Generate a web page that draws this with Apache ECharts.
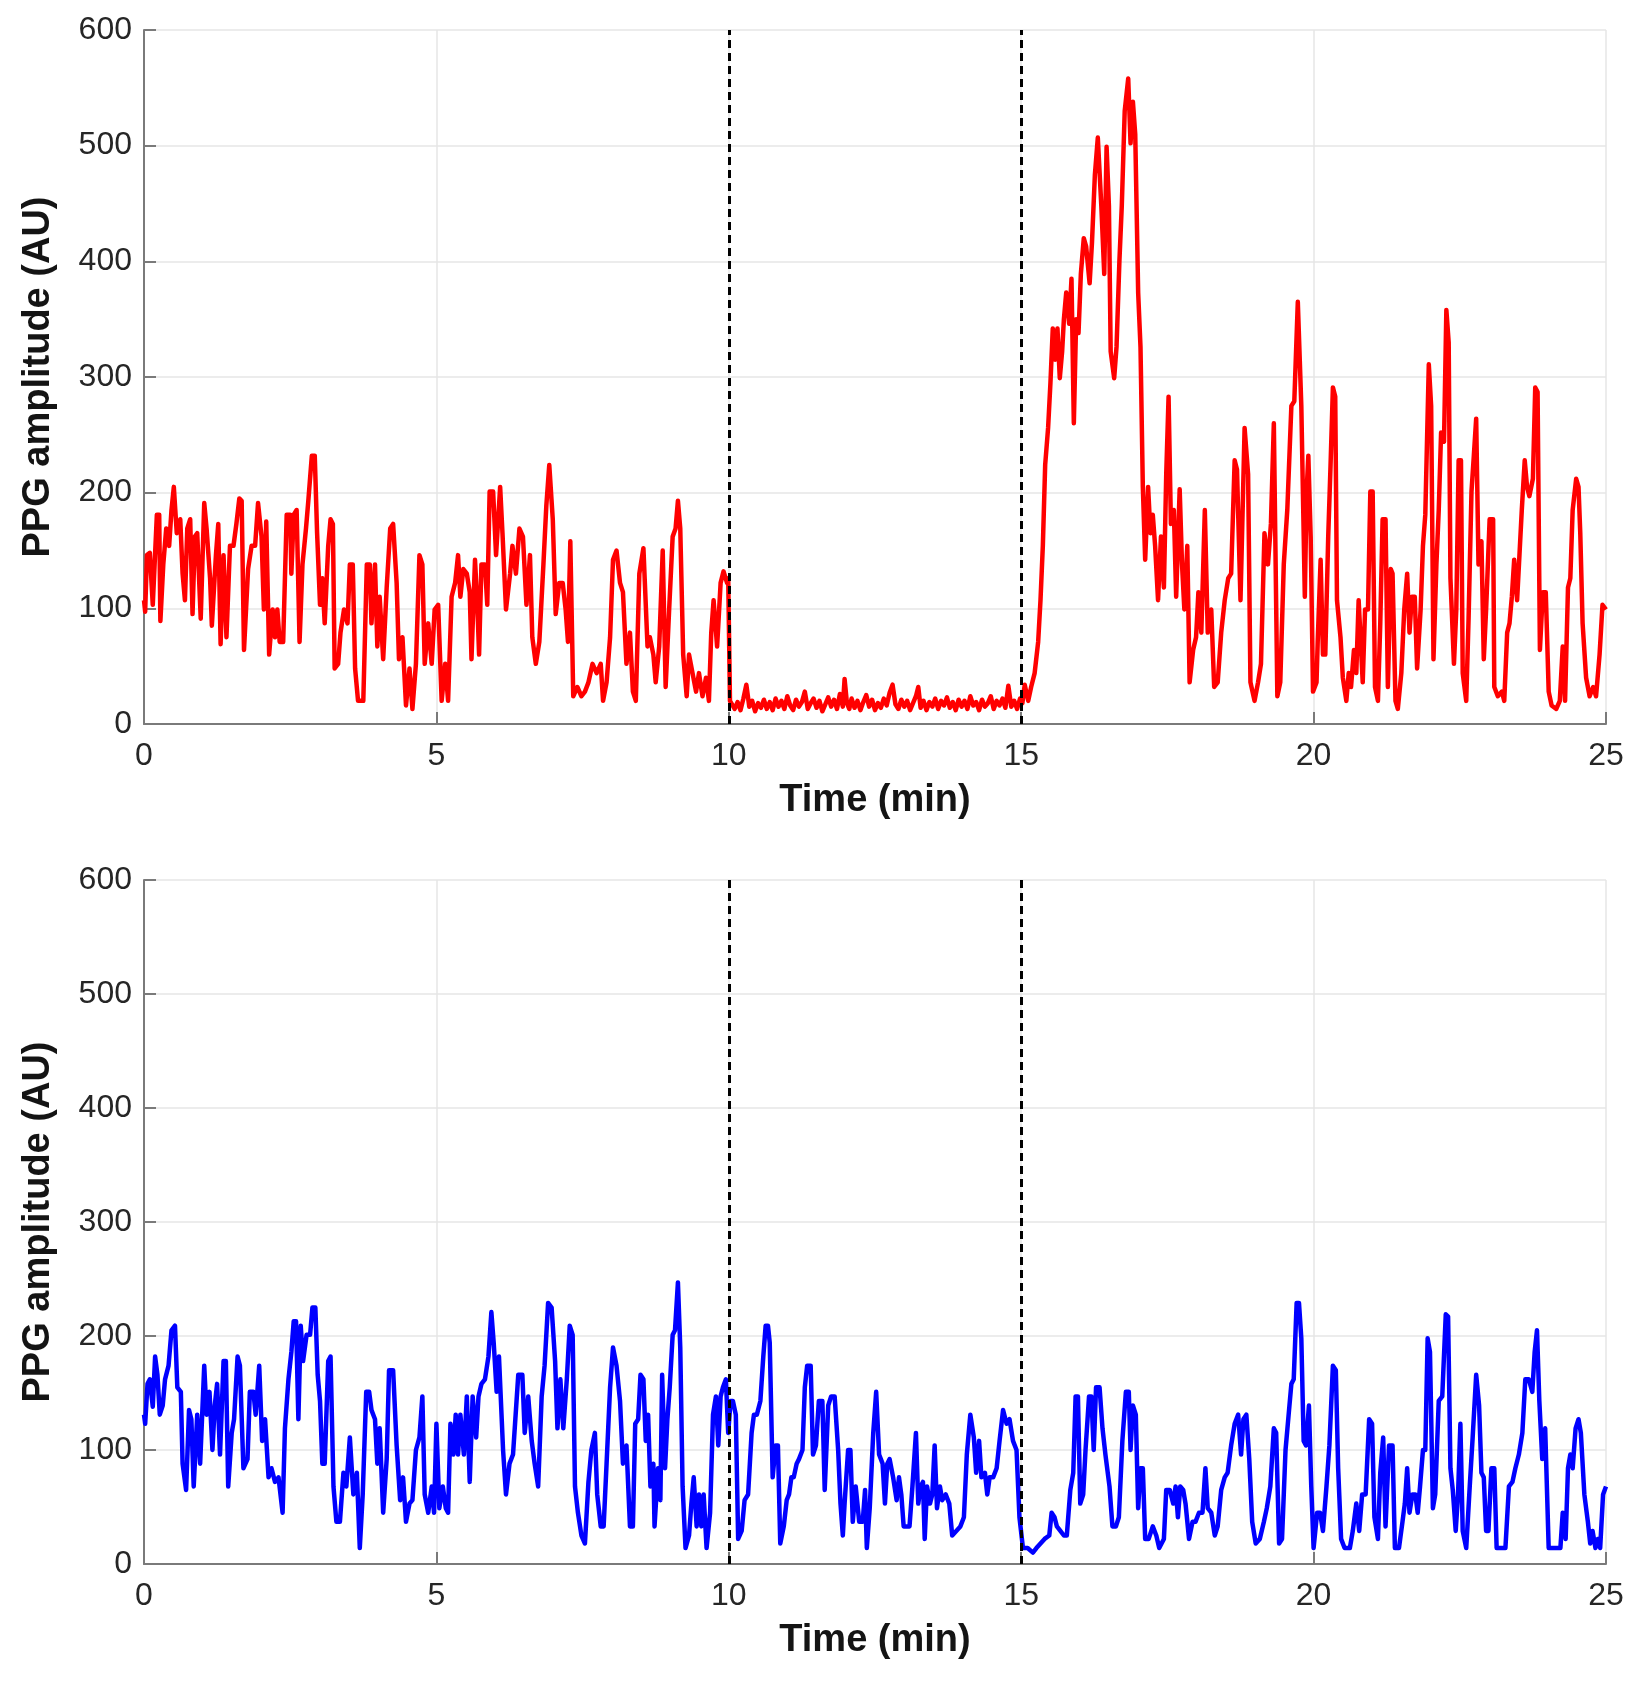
<!DOCTYPE html>
<html><head><meta charset="utf-8">
<script src="https://cdn.jsdelivr.net/npm/echarts@6/dist/echarts.min.js"></script>
<style>html,body{margin:0;padding:0;background:#fff}#c{width:1643px;height:1682px}</style>
</head><body><div id="c"></div>
<script>
// ---- axis settings ----
const xMin = 0, xMax = 25, xStep = 5;
const yMin = 0, yMax = 600, yStep = 100;
const markerTimes = [10, 15];
const xTitle = 'Time (min)';
const yTitle = 'PPG amplitude (AU)';

// ---- top panel (red) ----
const redT = [0.00,0.02,0.05,0.10,0.15,0.22,0.26,0.28,0.33,0.38,0.43,0.47,0.51,0.56,0.62,0.66,0.70,0.74,0.79,0.83,0.87,0.91,0.97,1.03,1.07,1.13,1.16,1.23,1.27,1.31,1.36,1.41,1.47,1.53,1.58,1.63,1.67,1.71,1.78,1.84,1.90,1.95,2.01,2.05,2.09,2.14,2.20,2.24,2.28,2.32,2.38,2.44,2.50,2.52,2.56,2.61,2.66,2.71,2.77,2.81,2.87,2.92,2.96,3.01,3.05,3.09,3.15,3.19,3.23,3.26,3.32,3.36,3.42,3.48,3.52,3.57,3.61,3.66,3.75,3.81,3.86,3.89,3.95,3.99,4.03,4.09,4.15,4.21,4.26,4.32,4.36,4.42,4.48,4.54,4.59,4.65,4.71,4.76,4.80,4.86,4.92,4.97,5.03,5.09,5.15,5.20,5.26,5.32,5.37,5.41,5.46,5.52,5.57,5.60,5.66,5.70,5.73,5.77,5.83,5.87,5.91,5.97,6.02,6.09,6.13,6.19,6.26,6.30,6.36,6.42,6.48,6.54,6.60,6.64,6.70,6.76,6.83,6.88,6.93,6.99,7.04,7.10,7.16,7.21,7.25,7.29,7.34,7.41,7.48,7.54,7.60,7.67,7.74,7.81,7.85,7.91,7.97,8.02,8.08,8.14,8.19,8.25,8.31,8.36,8.41,8.47,8.54,8.61,8.65,8.71,8.75,8.81,8.87,8.92,8.98,9.04,9.09,9.13,9.17,9.22,9.28,9.32,9.38,9.44,9.49,9.55,9.61,9.66,9.70,9.74,9.80,9.86,9.91,9.97,9.99,10.02,10.10,10.15,10.20,10.25,10.30,10.35,10.40,10.45,10.50,10.55,10.60,10.65,10.70,10.75,10.80,10.85,10.90,10.95,11.00,11.05,11.10,11.15,11.20,11.25,11.30,11.35,11.40,11.45,11.50,11.55,11.60,11.65,11.70,11.75,11.80,11.85,11.90,11.95,11.98,12.02,12.06,12.10,12.15,12.20,12.25,12.30,12.35,12.40,12.45,12.50,12.55,12.60,12.65,12.70,12.75,12.80,12.85,12.90,12.95,13.00,13.05,13.10,13.15,13.20,13.24,13.28,13.33,13.38,13.43,13.48,13.53,13.58,13.63,13.68,13.73,13.78,13.83,13.88,13.93,13.98,14.03,14.08,14.13,14.18,14.23,14.28,14.33,14.38,14.43,14.48,14.53,14.58,14.63,14.68,14.73,14.78,14.83,14.88,14.93,14.98,15.02,15.06,15.12,15.17,15.23,15.29,15.33,15.37,15.41,15.46,15.50,15.54,15.58,15.62,15.66,15.70,15.73,15.77,15.82,15.86,15.90,15.94,15.98,16.02,16.07,16.11,16.17,16.21,16.26,16.31,16.37,16.42,16.46,16.50,16.53,16.59,16.63,16.68,16.72,16.77,16.83,16.87,16.91,16.95,17.00,17.04,17.08,17.12,17.17,17.21,17.25,17.29,17.34,17.39,17.44,17.48,17.52,17.56,17.61,17.65,17.71,17.75,17.79,17.84,17.88,17.94,17.99,18.03,18.08,18.14,18.19,18.25,18.30,18.36,18.42,18.48,18.54,18.59,18.65,18.69,18.75,18.82,18.88,18.92,18.99,19.05,19.10,19.16,19.22,19.27,19.32,19.38,19.43,19.49,19.55,19.62,19.67,19.73,19.79,19.85,19.88,19.91,19.95,19.99,20.05,20.07,20.12,20.16,20.20,20.25,20.29,20.33,20.37,20.40,20.46,20.50,20.56,20.60,20.64,20.69,20.73,20.77,20.80,20.84,20.88,20.93,20.97,21.01,21.05,21.10,21.14,21.18,21.23,21.27,21.32,21.35,21.40,21.44,21.50,21.55,21.60,21.64,21.68,21.73,21.77,21.83,21.87,21.91,21.97,22.01,22.05,22.10,22.14,22.18,22.23,22.27,22.31,22.34,22.40,22.44,22.48,22.52,22.55,22.61,22.65,22.70,22.74,22.78,22.82,22.87,22.91,22.95,23.01,23.07,23.09,23.15,23.22,23.26,23.31,23.35,23.39,23.43,23.48,23.52,23.56,23.61,23.65,23.69,23.75,23.79,23.83,23.87,23.92,23.97,24.02,24.07,24.15,24.21,24.26,24.30,24.35,24.39,24.43,24.49,24.53,24.56,24.60,24.66,24.72,24.78,24.83,24.89,24.94,25.00];
const redV = [107,97,146,148,103,181,181,89,138,169,154,185,205,165,177,130,107,169,177,95,162,165,91,191,169,126,85,146,173,69,146,75,154,154,173,195,193,64,134,154,154,191,162,99,175,60,99,75,99,71,71,181,181,130,181,185,71,138,169,193,232,232,165,103,126,87,154,177,173,48,52,79,99,87,138,138,48,20,20,138,138,87,138,67,110,56,118,169,173,122,56,75,16,48,13,52,146,138,52,87,52,99,103,20,52,20,110,122,146,110,134,130,114,56,142,103,60,138,138,103,201,201,146,205,165,99,130,154,130,169,162,103,146,75,52,71,138,189,224,177,95,122,122,99,71,158,24,32,24,28,36,52,44,52,20,36,75,142,150,122,114,52,79,28,20,130,152,67,75,60,36,67,150,32,99,162,169,193,169,60,24,60,44,28,44,24,40,20,79,107,67,122,132,122,126,20,13,19,12,22,34,15,20,11,18,14,21,13,19,12,22,15,20,13,24,16,12,21,15,19,28,13,18,22,14,20,11,17,23,15,21,13,26,15,39,18,13,22,14,20,12,19,25,15,21,12,18,14,22,16,27,34,17,13,21,15,20,12,18,24,32,14,20,12,19,15,22,13,20,16,23,14,19,12,21,15,20,13,24,16,19,12,21,15,18,24,13,20,16,22,14,33,15,20,13,22,18,34,20,32,44,71,107,154,224,256,295,342,315,342,299,322,350,373,346,385,260,350,338,389,420,413,381,416,475,507,448,389,499,448,322,299,326,401,448,530,558,502,538,510,373,326,205,142,205,165,181,154,107,162,118,216,283,173,185,110,203,138,99,154,36,64,75,114,79,185,79,99,32,36,79,107,126,130,228,220,107,256,216,36,20,36,52,165,138,173,260,24,36,138,185,275,279,365,275,110,200,232,162,28,36,71,142,60,60,162,224,291,283,107,75,40,20,44,32,64,44,107,107,36,99,99,201,201,32,20,87,177,177,32,134,130,20,13,44,99,130,79,110,110,48,99,154,181,311,275,56,138,185,252,244,358,330,126,52,99,228,228,44,20,91,201,232,264,138,158,56,99,177,177,32,24,28,20,79,87,110,142,107,146,185,228,205,197,212,291,287,64,114,114,28,16,13,20,67,20,118,126,185,212,205,165,87,40,24,32,24,60,103,99];

// ---- bottom panel (blue) ----
const blueT = [0.00,0.02,0.06,0.10,0.15,0.19,0.23,0.27,0.32,0.36,0.42,0.47,0.53,0.57,0.63,0.66,0.72,0.77,0.81,0.85,0.91,0.96,1.03,1.07,1.12,1.17,1.21,1.25,1.30,1.36,1.40,1.44,1.50,1.54,1.60,1.64,1.70,1.77,1.81,1.87,1.91,1.97,2.02,2.07,2.13,2.18,2.24,2.30,2.37,2.41,2.47,2.52,2.56,2.60,2.64,2.68,2.72,2.78,2.84,2.88,2.93,2.97,3.01,3.05,3.09,3.15,3.19,3.24,3.29,3.35,3.41,3.46,3.52,3.58,3.64,3.69,3.74,3.80,3.85,3.89,3.95,3.99,4.03,4.09,4.15,4.19,4.26,4.32,4.38,4.43,4.48,4.54,4.59,4.65,4.71,4.76,4.80,4.86,4.92,4.96,5.00,5.05,5.11,5.16,5.20,5.24,5.29,5.33,5.37,5.41,5.47,5.52,5.57,5.62,5.68,5.72,5.77,5.83,5.89,5.94,5.98,6.03,6.07,6.14,6.19,6.25,6.31,6.40,6.47,6.51,6.57,6.63,6.68,6.74,6.80,6.85,6.91,6.97,7.03,7.07,7.12,7.17,7.23,7.28,7.33,7.37,7.42,7.48,7.54,7.60,7.65,7.71,7.75,7.81,7.86,7.91,7.97,8.02,8.08,8.14,8.19,8.25,8.31,8.36,8.40,8.45,8.49,8.54,8.58,8.62,8.66,8.71,8.73,8.79,8.83,8.86,8.91,8.95,8.99,9.04,9.08,9.13,9.17,9.21,9.26,9.32,9.36,9.40,9.45,9.49,9.53,9.57,9.62,9.68,9.73,9.78,9.82,9.86,9.90,9.95,9.99,10.03,10.07,10.12,10.16,10.22,10.27,10.33,10.39,10.43,10.48,10.54,10.59,10.63,10.67,10.70,10.75,10.80,10.84,10.88,10.94,10.99,11.03,11.07,11.11,11.16,11.20,11.26,11.30,11.34,11.40,11.44,11.49,11.54,11.60,11.64,11.70,11.75,11.81,11.87,11.91,11.95,11.98,12.04,12.08,12.12,12.17,12.23,12.29,12.33,12.36,12.41,12.47,12.52,12.57,12.63,12.67,12.71,12.75,12.81,12.87,12.91,12.95,12.99,13.05,13.09,13.14,13.20,13.24,13.28,13.32,13.35,13.39,13.44,13.48,13.52,13.56,13.61,13.65,13.71,13.77,13.82,13.89,13.96,14.02,14.07,14.13,14.19,14.23,14.28,14.32,14.38,14.42,14.46,14.52,14.58,14.63,14.69,14.75,14.80,14.86,14.92,14.97,15.03,15.11,15.20,15.26,15.33,15.40,15.48,15.52,15.57,15.61,15.67,15.73,15.78,15.84,15.89,15.93,15.97,16.01,16.06,16.10,16.16,16.20,16.24,16.28,16.34,16.39,16.44,16.51,16.56,16.62,16.67,16.73,16.79,16.84,16.87,16.91,16.96,17.00,17.04,17.08,17.12,17.18,17.25,17.31,17.36,17.44,17.48,17.54,17.60,17.64,17.68,17.72,17.77,17.81,17.87,17.93,17.98,18.04,18.10,18.15,18.19,18.25,18.31,18.36,18.42,18.48,18.53,18.59,18.65,18.71,18.76,18.80,18.85,18.90,18.95,19.01,19.08,19.15,19.20,19.26,19.32,19.36,19.41,19.46,19.52,19.58,19.62,19.66,19.71,19.75,19.79,19.83,19.87,19.92,19.96,20.00,20.06,20.11,20.16,20.22,20.27,20.33,20.38,20.42,20.47,20.53,20.62,20.67,20.73,20.78,20.83,20.89,20.95,21.00,21.04,21.10,21.14,21.19,21.23,21.29,21.35,21.39,21.46,21.52,21.56,21.60,21.64,21.69,21.74,21.78,21.82,21.87,21.91,21.95,21.99,22.04,22.08,22.14,22.20,22.26,22.30,22.34,22.38,22.43,22.47,22.51,22.55,22.61,22.67,22.72,22.78,22.83,22.87,22.91,22.95,22.99,23.04,23.09,23.13,23.21,23.28,23.34,23.40,23.45,23.51,23.57,23.62,23.68,23.74,23.78,23.82,23.86,23.91,23.96,24.02,24.09,24.16,24.22,24.26,24.31,24.35,24.39,24.43,24.48,24.53,24.57,24.63,24.69,24.73,24.77,24.82,24.86,24.90,24.95,25.00];
const blueV = [131,123,158,162,138,182,166,131,139,162,174,205,209,155,151,88,65,135,127,68,131,88,174,131,151,100,139,158,96,178,178,68,115,127,182,174,84,92,151,151,131,174,108,127,76,84,72,76,45,119,162,186,213,213,127,209,178,201,201,225,225,166,143,88,88,178,182,68,37,37,80,68,111,61,80,14,61,151,151,135,127,88,119,45,92,170,170,104,56,76,37,53,56,100,111,147,61,45,68,45,123,49,68,49,45,123,96,131,96,131,96,147,72,147,111,147,158,162,182,221,194,151,182,100,61,88,96,166,166,115,147,108,88,68,147,174,229,225,178,119,162,119,162,209,201,68,45,25,18,72,100,115,61,33,33,88,155,190,174,143,88,104,33,33,123,127,166,162,108,131,68,88,33,84,56,166,84,127,155,201,205,247,190,68,14,25,53,76,33,61,33,61,14,45,131,147,104,147,155,162,115,143,143,131,22,29,56,61,115,131,131,143,182,209,209,194,76,104,104,18,33,56,61,76,76,88,92,100,155,174,174,96,104,143,143,65,139,147,147,100,53,25,53,100,100,37,68,37,37,65,14,49,115,151,96,88,53,88,92,76,56,76,61,33,33,33,68,115,53,68,72,22,68,53,61,104,49,68,56,61,53,25,29,33,41,96,131,111,80,108,76,80,61,76,76,84,108,135,123,127,108,100,41,14,14,10,14,18,22,25,45,41,33,29,25,25,65,80,147,147,53,61,100,147,147,100,155,155,119,96,68,33,33,41,108,151,151,100,139,131,49,84,84,22,22,33,25,14,22,65,65,53,68,41,68,65,53,22,37,37,45,45,84,49,45,25,33,65,76,80,104,123,131,96,127,131,92,37,18,22,37,49,68,119,115,18,22,100,135,158,162,229,229,198,108,104,139,68,14,45,45,29,68,104,174,170,84,22,14,14,29,53,29,61,61,127,123,41,22,80,111,33,104,104,14,14,37,53,84,45,61,61,45,68,100,100,198,186,49,61,143,147,219,217,84,65,29,61,123,29,14,68,111,166,139,80,76,29,29,84,84,14,14,14,68,72,84,96,115,162,162,151,186,205,143,92,119,14,14,14,14,45,22,84,96,84,119,127,115,61,37,18,29,14,22,14,61,68];

const redData = redT.map((t, i) => [t, redV[i]]);
const blueData = blueT.map((t, i) => [t, blueV[i]]);

const FONT = '"Liberation Sans", Arial, Helvetica, sans-serif';
const axisGray = '#7a7a7a';

function xAx(gi) {
  return {
    type: 'value', gridIndex: gi, min: xMin, max: xMax, interval: xStep,
    axisLine: { show: true, onZero: false, lineStyle: { color: axisGray, width: 2 } },
    axisTick: { show: true, inside: true, length: 12, lineStyle: { color: axisGray, width: 2 } },
    axisLabel: { fontSize: 32, color: '#262626', margin: 16, fontFamily: FONT },
    splitLine: { show: true, lineStyle: { color: '#e6e6e6', width: 1.5 } },
    name: xTitle, nameLocation: 'middle', nameGap: 58,
    nameTextStyle: { fontSize: 38, fontWeight: 'bold', color: '#141414', fontFamily: FONT }
  };
}
function yAx(gi) {
  return {
    type: 'value', gridIndex: gi, min: yMin, max: yMax, interval: yStep,
    axisLine: { show: true, onZero: false, lineStyle: { color: axisGray, width: 2 } },
    axisTick: { show: true, inside: true, length: 12, lineStyle: { color: axisGray, width: 2 } },
    axisLabel: { fontSize: 32, color: '#262626', margin: 12, fontFamily: FONT },
    splitLine: { show: true, lineStyle: { color: '#e6e6e6', width: 1.5 } },
    name: yTitle, nameLocation: 'middle', nameGap: 86,
    nameTextStyle: { fontSize: 38, fontWeight: 'bold', color: '#141414', fontFamily: FONT }
  };
}
function markers() {
  return {
    silent: true, symbol: ['none', 'none'], label: { show: false },
    lineStyle: { color: '#000', type: [8, 5], width: 3 },
    data: markerTimes.map(t => ({ xAxis: t }))
  };
}

const chart = echarts.init(document.getElementById('c'), null, { renderer: 'canvas' });
chart.setOption({
  animation: false,
  backgroundColor: '#ffffff',
  grid: [
    { left: 144, top: 30, width: 1462, height: 694 },
    { left: 144, top: 880, width: 1462, height: 684 }
  ],
  xAxis: [xAx(0), xAx(1)],
  yAxis: [yAx(0), yAx(1)],
  series: [
    { type: 'line', xAxisIndex: 0, yAxisIndex: 0, data: redData, showSymbol: false,
      lineStyle: { color: '#ff0000', width: 4.5, join: 'round' }, itemStyle: { color: '#ff0000' }, markLine: markers(), z: 3 },
    { type: 'line', xAxisIndex: 1, yAxisIndex: 1, data: blueData, showSymbol: false,
      lineStyle: { color: '#0000ff', width: 4.5, join: 'round' }, itemStyle: { color: '#0000ff' }, markLine: markers(), z: 3 }
  ]
});
</script>
</body></html>
